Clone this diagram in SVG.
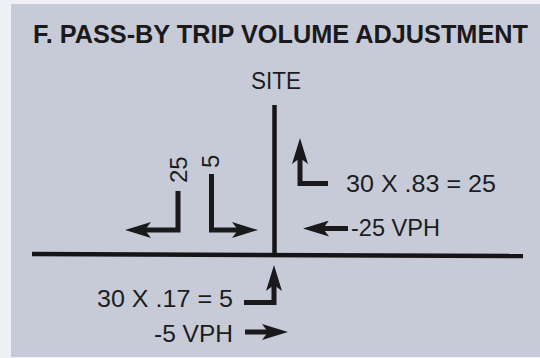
<svg xmlns="http://www.w3.org/2000/svg" width="540" height="358" viewBox="0 0 540 358">
  <style>
    .lbl { font-family: "Liberation Sans", Arial, sans-serif; font-size: 24px; fill: #1c1c1e; }
    .title { font-family: "Liberation Sans", Arial, sans-serif; font-size: 25px; font-weight: bold; fill: #1a1a1c; }
    .road { stroke: #151517; stroke-width: 4.5; fill: none; }
    .arr { stroke: #1a1a1c; stroke-width: 5; fill: none; stroke-linejoin: miter; stroke-linecap: butt; marker-end: url(#head); }
  </style>
  <defs>
    <marker id="head" viewBox="0 0 26 16" markerWidth="26" markerHeight="16" markerUnits="userSpaceOnUse" refX="6" refY="8" orient="auto">
      <path d="M0,0 L26,8 L0,16 L6,8 Z" fill="#1a1a1c"/>
    </marker>
  </defs>
  <rect x="0" y="0" width="540" height="358" fill="#eef0f3"/>
  <rect x="11" y="4" width="529" height="353" fill="#c7cbd8"/>

  <g id="title">
    <text class="title" x="33" y="43" textLength="495" lengthAdjust="spacingAndGlyphs">F. PASS-BY TRIP VOLUME ADJUSTMENT</text>
  </g>

  <g id="site">
    <text class="lbl" x="251" y="89" font-size="23" textLength="50" lengthAdjust="spacingAndGlyphs">SITE</text>
  </g>

  <g id="roads">
    <line class="road" x1="274.5" y1="105" x2="274.5" y2="255"/>
    <line class="road" x1="32" y1="254" x2="523" y2="256"/>
  </g>

  <g id="connectors">
    <path class="arr" d="M178,191 V230 H145"/>
    <path class="arr" d="M211.5,174 V230 H238"/>
    <path class="arr" d="M328,183.5 H300 V158"/>
    <path class="arr" d="M348,228.5 H323"/>
    <path class="arr" d="M244,302.5 H274 V285"/>
    <path class="arr" d="M245,332 H268"/>
  </g>

  <g id="label-25">
    <text class="lbl" transform="translate(187,183) rotate(-90)" font-size="25">25</text>
  </g>
  <g id="label-5">
    <text class="lbl" transform="translate(219,168) rotate(-90)" font-size="25">5</text>
  </g>
  <g id="label-83">
    <text class="lbl" x="346" y="192" textLength="150" lengthAdjust="spacingAndGlyphs">30 X .83 = 25</text>
  </g>
  <g id="label-25vph">
    <text class="lbl" x="351" y="235.5" textLength="89" lengthAdjust="spacingAndGlyphs">-25 VPH</text>
  </g>
  <g id="label-17">
    <text class="lbl" x="97" y="306.5" textLength="136" lengthAdjust="spacingAndGlyphs">30 X .17 = 5</text>
  </g>
  <g id="label-5vph">
    <text class="lbl" x="154" y="341.5" textLength="79" lengthAdjust="spacingAndGlyphs">-5 VPH</text>
  </g>
</svg>
